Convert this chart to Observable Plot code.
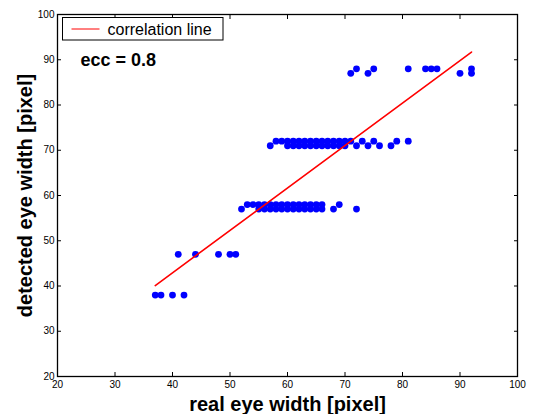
<!DOCTYPE html>
<html><head><meta charset="utf-8">
<script src="https://cdn.jsdelivr.net/npm/d3@7"></script>
<script src="https://cdn.jsdelivr.net/npm/@observablehq/plot@0.6"></script>
<style>
body{margin:0;background:#fff;}
#wrap{width:538px;height:414px;}
</style></head>
<body><div id="wrap"></div>
<script>
// Tick values
const xTicks = [20, 30, 40, 50, 60, 70, 80, 90, 100];
const yTicks = [20, 30, 40, 50, 60, 70, 80, 90, 100];

// Real eye widths (x) for each detected eye width (y)
const row38 = [37, 38, 40, 42];
const row47 = [41, 44, 48, 50, 51];
const row57 = [52, 55, 56, 57, 58, 59, 60, 61, 62, 63, 64, 65, 66, 68, 72];
const row58 = [53, 54, 55, 56, 57, 58, 59, 60, 61, 62, 63, 64, 65, 66, 69];
const row71 = [57, 60, 61, 62, 63, 64, 65, 66, 67, 68, 69, 70, 72, 74, 76, 78];
const row72 = [58, 59, 60, 61, 62, 63, 64, 65, 66, 67, 68, 69, 70, 71, 73, 75, 79, 81];
const row87 = [71, 74, 90, 92];
const row88 = [72, 75, 81, 84, 85, 86, 92];

// Correlation line end points
const lineX = [37, 92];
const lineY = [40.1, 91.7];

const rows = [[38, row38], [47, row47], [57, row57], [58, row58], [71, row71], [72, row72], [87, row87], [88, row88]];
const points = rows.flatMap(([y, xs]) => xs.map(x => ({x, y})));
const lineData = lineX.map((x, i) => ({x, y: lineY[i]}));

const font = "'Liberation Sans', Arial, Helvetica, sans-serif";

const chart = Plot.plot({
  width: 538, height: 414,
  marginLeft: 57, marginRight: 21, marginTop: 14, marginBottom: 38,
  style: {fontFamily: font, fontSize: "10px", color: "#000", background: "#fff", overflow: "visible"},
  x: {domain: [20, 100]},
  y: {domain: [20, 100]},
  marks: [
    Plot.dot(points, {x: "x", y: "y", r: 3.4, fill: "#0000ff", stroke: "none"}),
    Plot.line(lineData, {x: "x", y: "y", stroke: "#ff0000", strokeWidth: 1.6}),
    Plot.axisX(xTicks, {anchor: "bottom", tickSize: -4, tickPadding: 8, label: null, stroke: "#000", strokeWidth: 1}),
    Plot.axisX(xTicks, {anchor: "top", tickSize: -4, tickFormat: () => "", label: null, stroke: "#000", strokeWidth: 1}),
    Plot.axisY(yTicks, {anchor: "left", tickSize: -4, tickPadding: 7, label: null, stroke: "#000", strokeWidth: 1}),
    Plot.axisY(yTicks, {anchor: "right", tickSize: -4, tickFormat: () => "", label: null, stroke: "#000", strokeWidth: 1}),
    Plot.frame({stroke: "#000", strokeWidth: 1.3}),
    Plot.text(["real eye width [pixel]"], {frameAnchor: "bottom", dy: 28, textAnchor: "middle", lineAnchor: "middle", fontSize: 20, fontWeight: "bold", fill: "#000"}),
    Plot.text(["detected eye width [pixel]"], {frameAnchor: "left", dx: -32, rotate: -90, textAnchor: "middle", lineAnchor: "middle", fontSize: 20, fontWeight: "bold", fill: "#000"}),
    Plot.text(["ecc = 0.8"], {frameAnchor: "top-left", dx: 23, dy: 46, textAnchor: "start", lineAnchor: "middle", fontSize: 18, fontWeight: "bold", fill: "#000"})
  ]
});

// Legend box (inside the axes, top-left)
const svg = d3.select(chart);
const lg = svg.append("g").attr("transform", "translate(62.5,17.5)");
lg.append("rect").attr("width", 160.5).attr("height", 22.5).attr("fill", "#fff").attr("stroke", "#000").attr("stroke-width", 1);
lg.append("line").attr("x1", 9).attr("x2", 37).attr("y1", 11.5).attr("y2", 11.5).attr("stroke", "#ff0000").attr("stroke-width", 1);
lg.append("text").attr("x", 45).attr("y", 11.5).attr("dy", "0.35em").attr("text-anchor", "start")
  .attr("font-size", 16).attr("font-family", font).attr("fill", "#000").text("correlation line");

document.getElementById("wrap").appendChild(chart);
</script>
</body></html>
